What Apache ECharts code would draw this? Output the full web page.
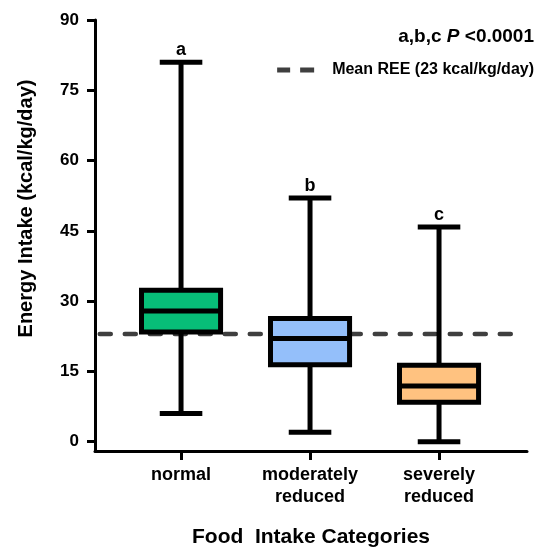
<!DOCTYPE html>
<html>
<head>
<meta charset="utf-8">
<script src="https://cdn.jsdelivr.net/npm/echarts@6/dist/echarts.min.js"></script>
<style>
  html, body { margin: 0; padding: 0; background: #fff; }
  #chart { width: 543px; height: 549px; }
</style>
</head>
<body>
<div id="chart"></div>
<script>
// groups on the x axis
const categories = ['normal', 'moderately\nreduced', 'severely\nreduced'];
// box plot values: [min, Q1, median, Q3, max]
const boxValues = [
    [6, 23.4, 27.9, 32.3, 81],
    [2, 16.4, 22, 26.3, 52],
    [0, 8.4, 11.9, 16.3, 45.8]
];
const letters = ['a', 'b', 'c'];
const boxColors = ['#07be78', '#94bffa', '#ffc280'];
const meanREE = 23;
const yTicks = [0, 15, 30, 45, 60, 75, 90];

const FONT = '"Liberation Sans", Arial, sans-serif';
const X_MIN = -0.667, X_MAX = 2.682, LINE_START = -0.63, LINE_END = 2.574;
const BOX_W = 0.613, CAP_W = 0.33, LW = 5;

const chart = echarts.init(document.getElementById('chart'));

function renderBox(params, api) {
    const i = api.value(0);
    const [lo, q1, med, q3, hi] = [1, 2, 3, 4, 5].map(k => api.value(k));
    const pLo = api.coord([i, lo]), pQ1 = api.coord([i, q1]), pMed = api.coord([i, med]);
    const pQ3 = api.coord([i, q3]), pHi = api.coord([i, hi]);
    const bw = api.size([BOX_W, 0])[0];
    const cw = api.size([CAP_W, 0])[0];
    const x = pMed[0];
    const line = { stroke: '#000', lineWidth: LW, lineCap: 'butt' };
    return {
        type: 'group',
        children: [
            { type: 'line', shape: { x1: x, y1: pQ3[1], x2: x, y2: pHi[1] }, style: line },
            { type: 'line', shape: { x1: x, y1: pQ1[1], x2: x, y2: pLo[1] }, style: line },
            { type: 'line', shape: { x1: x - cw / 2, y1: pHi[1], x2: x + cw / 2, y2: pHi[1] }, style: line },
            { type: 'line', shape: { x1: x - cw / 2, y1: pLo[1], x2: x + cw / 2, y2: pLo[1] }, style: line },
            {
                type: 'rect',
                shape: { x: x - bw / 2, y: pQ3[1], width: bw, height: pQ1[1] - pQ3[1] },
                style: { fill: boxColors[i], stroke: '#000', lineWidth: LW }
            },
            { type: 'line', shape: { x1: x - bw / 2, y1: pMed[1], x2: x + bw / 2, y2: pMed[1] }, style: line },
            {
                type: 'text',
                style: {
                    text: letters[i], x: x, y: pHi[1] - 3,
                    align: 'center', verticalAlign: 'bottom',
                    font: 'bold 18px ' + FONT, fill: '#000'
                }
            }
        ]
    };
}

chart.setOption({
    backgroundColor: '#fff',
    animation: false,
    title: {
        text: '{n|a,b,c }{p|P}{n| <0.0001}',
        right: 4,
        top: 22,
        textStyle: {
            rich: {
                n: { fontFamily: FONT, fontWeight: 'bold', fontSize: 19, color: '#000' },
                p: { fontFamily: FONT, fontWeight: 'bold', fontStyle: 'italic', fontSize: 19, color: '#000' }
            }
        }
    },
    legend: {
        right: 4,
        top: 57,
        data: ['Mean REE (23 kcal/kg/day)'],
        icon: 'path://M0,0h13v5h-13z M23,0h14v5h-14z',
        itemWidth: 37,
        itemHeight: 5,
        textStyle: { fontFamily: FONT, fontWeight: 'bold', fontSize: 16, color: '#000', padding: [0, 0, 0, 13] }
    },
    grid: { left: 95, right: 16, top: 20, bottom: 98, outerBoundsMode: 'none', containLabel: false },
    xAxis: {
        type: 'value',
        min: X_MIN,
        max: X_MAX,
        name: 'Food  Intake Categories',
        nameLocation: 'middle',
        nameGap: 76,
        nameTextStyle: { fontFamily: FONT, fontWeight: 'bold', fontSize: 21, color: '#000' },
        splitLine: { show: false },
        axisLine: { show: true, onZero: false, lineStyle: { color: '#000', width: 3 } },
        axisTick: { show: true, customValues: [0, 1, 2], length: 9, lineStyle: { color: '#000', width: 3 } },
        axisLabel: {
            customValues: [0, 1, 2],
            formatter: v => categories[Math.round(v)],
            margin: 13,
            fontFamily: FONT, fontWeight: 'bold', fontSize: 18, lineHeight: 22, color: '#000'
        }
    },
    yAxis: {
        type: 'value',
        min: -2,
        max: 90,
        name: 'Energy Intake (kcal/kg/day)',
        nameLocation: 'middle',
        nameGap: 59,
        nameTextStyle: { fontFamily: FONT, fontWeight: 'bold', fontSize: 20, color: '#000', padding: [0, 0, 0, 54] },
        splitLine: { show: false },
        axisLine: { show: true, onZero: false, lineStyle: { color: '#000', width: 3 } },
        axisTick: { show: true, customValues: yTicks, length: 8, lineStyle: { color: '#000', width: 3 } },
        axisLabel: {
            customValues: yTicks,
            margin: 16,
            fontFamily: FONT, fontWeight: 'bold', fontSize: 17, color: '#000'
        }
    },
    series: [
        {
            name: 'Mean REE (23 kcal/kg/day)',
            type: 'line',
            data: [[LINE_START, meanREE], [LINE_END, meanREE]],
            symbol: 'none',
            z: 1,
            itemStyle: { color: '#3f3f3f' },
            lineStyle: { color: '#3f3f3f', width: 4.5, type: [11, 14], cap: 'round' }
        },
        {
            type: 'custom',
            z: 5,
            renderItem: renderBox,
            encode: { x: 0, y: [1, 2, 3, 4, 5] },
            data: boxValues.map((b, i) => [i].concat(b))
        }
    ]
});
</script>
</body>
</html>
